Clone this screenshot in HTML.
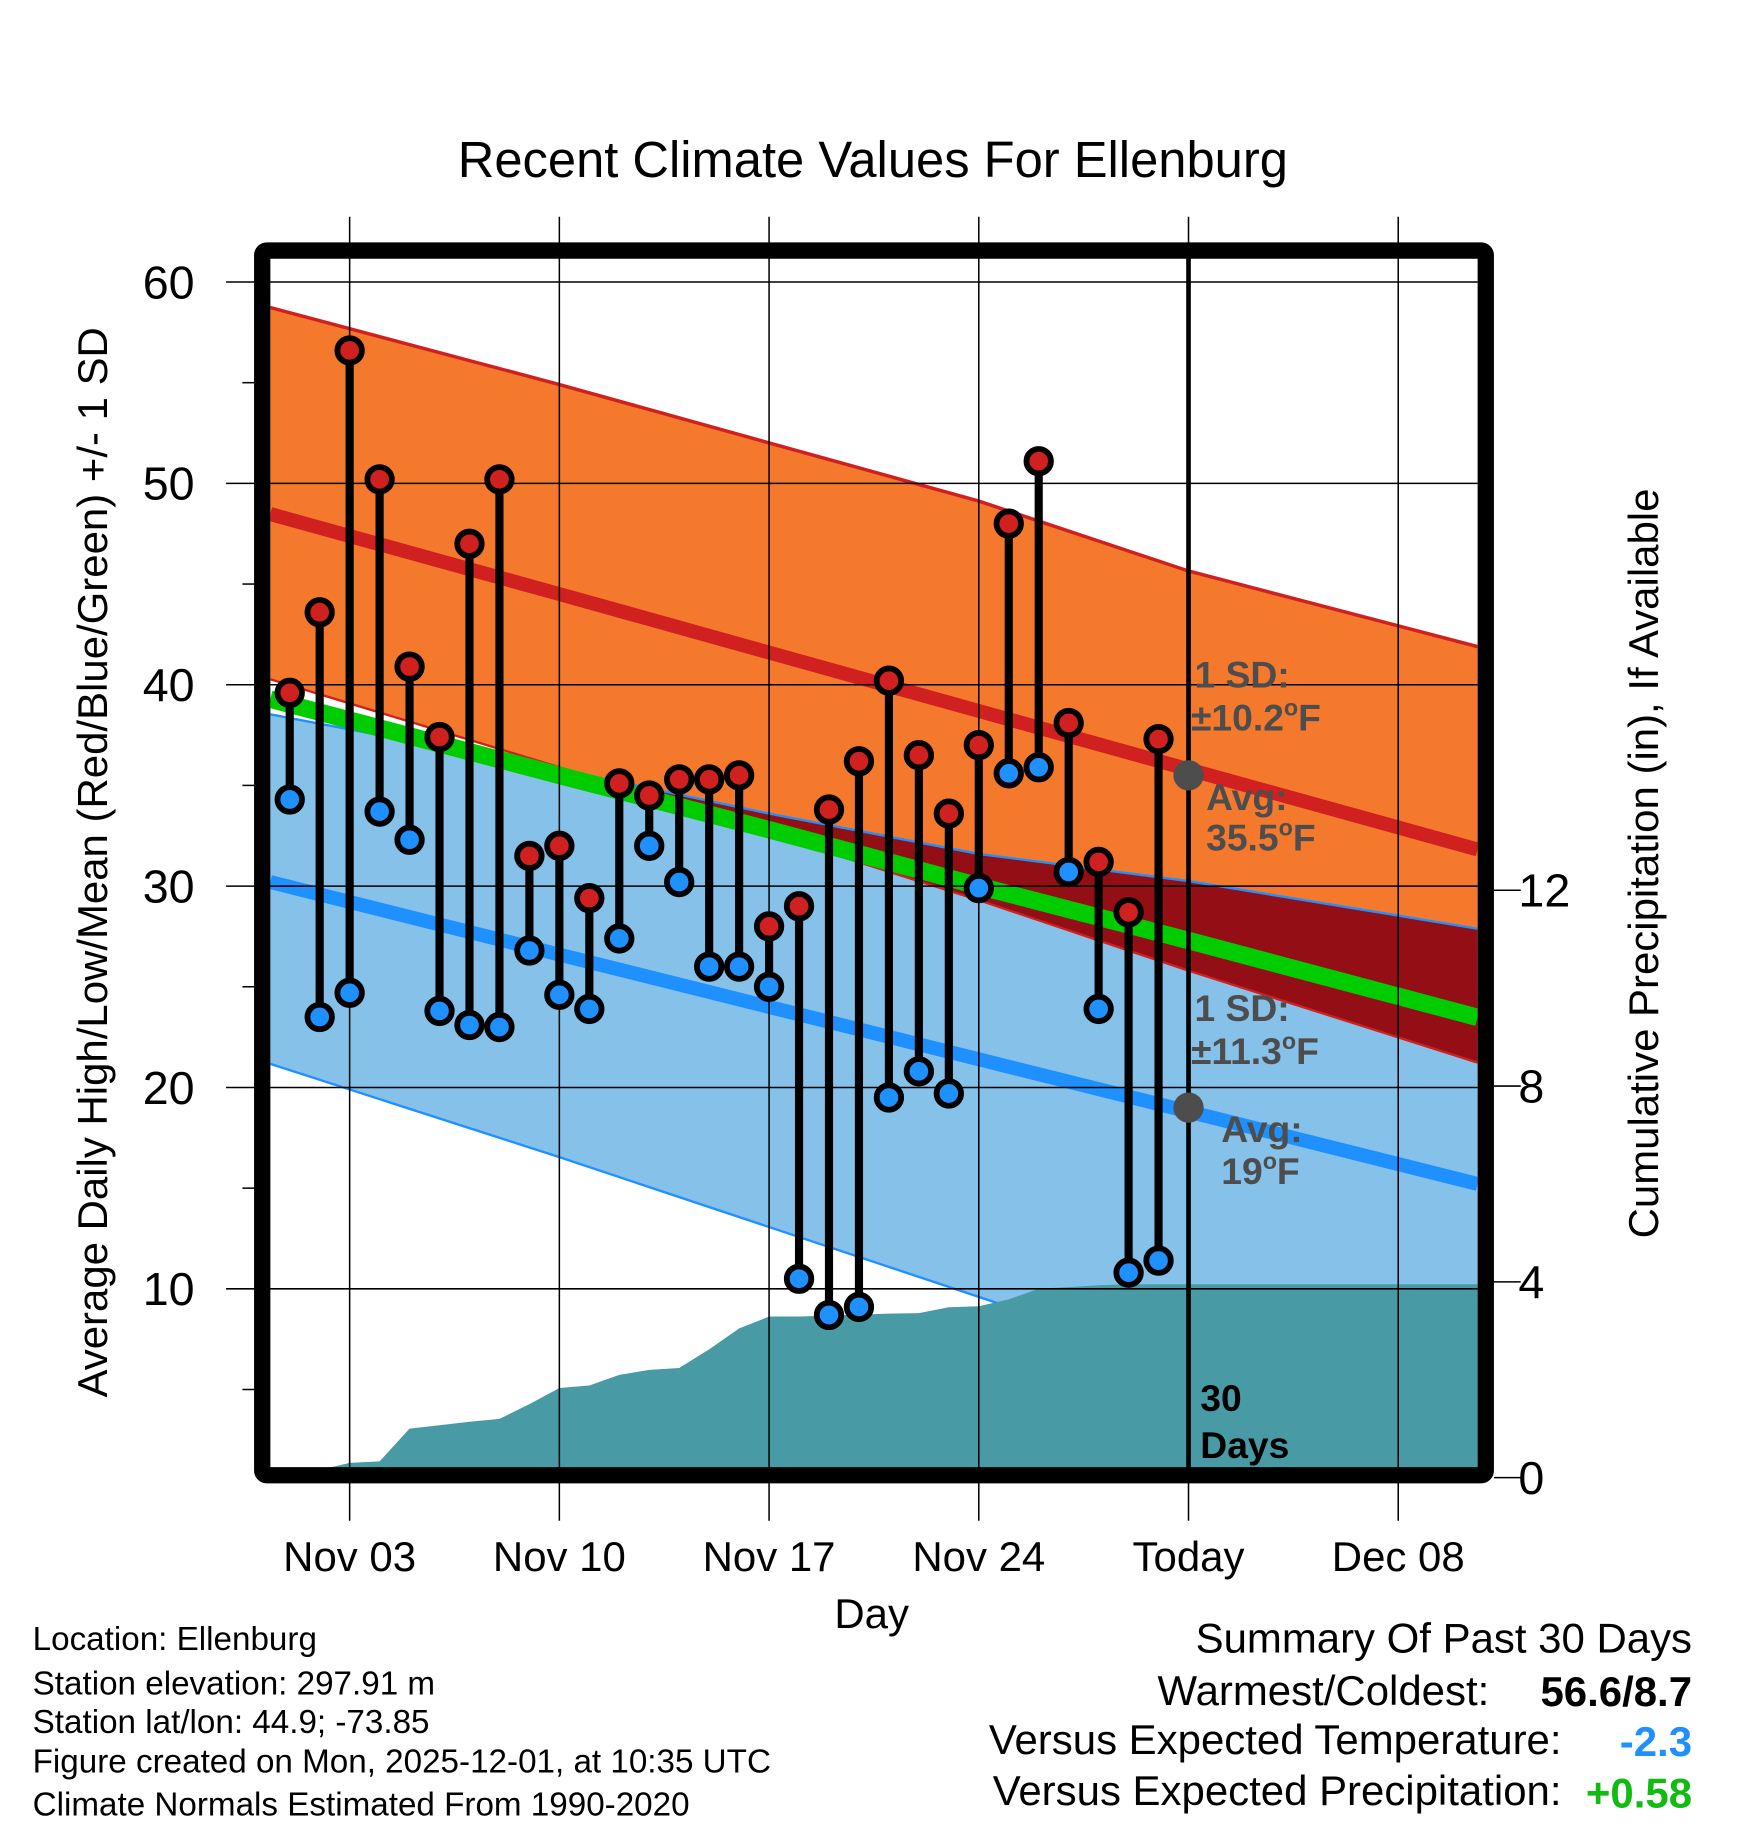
<!DOCTYPE html>
<html><head><meta charset="utf-8"><style>
html,body{margin:0;padding:0;background:#fff;}
svg{display:block;font-family:"Liberation Sans",Arial,sans-serif;}
</style></head><body>
<svg id="chart" width="1748" height="1828" viewBox="0 0 1500 1568.7" xmlns="http://www.w3.org/2000/svg">
<defs>
<clipPath id="plotclip"><rect x="232" y="215" width="1036" height="1046"/></clipPath>
<clipPath id="orangeclip"><polygon id="orangeclipPoly"/></clipPath>
</defs>
<rect width="1500" height="1568.7" fill="#fff"/>
<text x="749" y="152" font-size="43.5" text-anchor="middle">Recent Climate Values For Ellenburg</text>
<g id="fills" clip-path="url(#plotclip)"></g>
<g id="grid"></g>
<g id="marks" clip-path="url(#plotclip)"></g>
<rect x="225" y="215" width="1050" height="1051" fill="none" stroke="#000" stroke-width="14" rx="4"/>
<g id="axes"></g>
<text transform="translate(92,740) rotate(-90)" font-size="36" text-anchor="middle">Average Daily High/Low/Mean (Red/Blue/Green) +/- 1 SD</text>
<text transform="translate(1423,741) rotate(-90)" font-size="36" text-anchor="middle">Cumulative Precipitation (in), If Available</text>
<text x="748" y="1397" font-size="36" text-anchor="middle">Day</text>
<g font-size="32" font-weight="bold" fill="#4d4d4d">
<text x="1025" y="590">1 SD:</text><text x="1022" y="627">±10.2<tspan font-size="20" dy="-13">o</tspan><tspan dy="13">F</tspan></text>
<text x="1035" y="695">Avg:</text><text x="1035" y="730">35.5<tspan font-size="20" dy="-13">o</tspan><tspan dy="13">F</tspan></text>
</g>
<g font-size="32" font-weight="bold" fill="#4d4d4d">
<text x="1025" y="876">1 SD:</text><text x="1022" y="913">±11.3<tspan font-size="20" dy="-13">o</tspan><tspan dy="13">F</tspan></text>
<text x="1048" y="980">Avg:</text><text x="1048" y="1016">19<tspan font-size="20" dy="-13">o</tspan><tspan dy="13">F</tspan></text>
</g>
<g font-size="32" font-weight="bold" fill="#000">
<text x="1030" y="1211">30</text><text x="1030" y="1251">Days</text>
</g>
<g font-size="28.5">
<text x="28" y="1416">Location: Ellenburg</text>
<text x="28" y="1454">Station elevation: 297.91 m</text>
<text x="28" y="1487">Station lat/lon: 44.9; -73.85</text>
<text x="28" y="1521">Figure created on Mon, 2025-12-01, at 10:35 UTC</text>
<text x="28" y="1558">Climate Normals Estimated From 1990-2020</text>
</g>
<g font-size="36" text-anchor="end">
<text x="1452" y="1418">Summary Of Past 30 Days</text>
<text x="1278" y="1463">Warmest/Coldest:</text>
<text x="1452" y="1464" font-weight="bold">56.6/8.7</text>
<text x="1340" y="1505">Versus Expected Temperature:</text>
<text x="1452" y="1507" font-weight="bold" fill="#1e90ff">-2.3</text>
<text x="1340" y="1549">Versus Expected Precipitation:</text>
<text x="1452" y="1551" font-weight="bold" fill="#11bb11">+0.58</text>
</g>
</svg>
<script>
// ---- data ----
const days = [1,2,3,4,5,6,7,8,9,10,11,12,13,14,15,16,17,18,19,20,21,22,23,24,25,26,27,28,29,30];
const highs = [39.6,43.6,56.6,50.2,40.9,37.4,47.0,50.2,31.5,32.0,29.4,35.1,34.5,35.3,35.3,35.5,28.0,29.0,33.8,36.2,40.2,36.5,33.6,37.0,48.0,51.1,38.1,31.2,28.7,37.3];
const lows = [34.3,23.5,24.7,33.7,32.3,23.8,23.1,23.0,26.8,24.6,23.9,27.4,32.0,30.2,26.0,26.0,25.0,10.5,8.7,9.1,19.5,20.8,19.7,29.9,35.6,35.9,30.7,23.9,10.8,11.4];
const precip = [0,0,0.3,0.33,1.0,1.07,1.14,1.2,1.5,1.83,1.88,2.1,2.2,2.24,2.62,3.05,3.29,3.29,3.31,3.33,3.35,3.36,3.48,3.5,3.64,3.86,3.89,3.93,3.95,3.95];
const normDays = [0.35,10,17,24,31,40.65];
const upperHigh = [58.73,54.91,52.01,49.12,45.65,41.89];
const avgHigh = [48.48,44.5,41.6,38.7,35.8,31.82];
const lowerHigh = [40.27,35.9,32.6,29.3,25.8,21.23];
const upperLow = [38.53,35.8,33.6,31.6,30.25,27.88];
const meanT = [39.28,35.5,32.8,30.0,27.3,23.48];
const avgLow = [30.2,26.6,24.0,21.4,18.8,15.21];
const lowerLow = [21.17,16.54,13.07,9.6,6.1,2.0];
const xTickDays = [3,10,17,24,31,38];
const xTickLabels = ["Nov 03","Nov 10","Nov 17","Nov 24","Today","Dec 08"];
const yTicks = [60,50,40,30,20,10];
const yMinor = [55,45,35,25,15,5];
const y2Ticks = [0,4,8,12];
const todayDay = 31;
// ---- axes functions ----
const X = d => 248.6 + (d - 1) * 25.71;
const Y = v => 242 + (60 - v) * 17.28;
const Y2 = p => 1268 - p * 42;
const NS = "http://www.w3.org/2000/svg";
function mk(tag, attrs, parent){const e=document.createElementNS(NS,tag);for(const k in attrs)e.setAttribute(k,attrs[k]);parent.appendChild(e);return e;}
const pts = arr => normDays.map((d,i)=>X(d).toFixed(1)+","+Y(arr[i]).toFixed(1));
const fills = document.getElementById('fills');
const grid = document.getElementById('grid');
const marks = document.getElementById('marks');
const axes = document.getElementById('axes');
const orangePts = pts(upperHigh).concat(pts(lowerHigh).reverse()).join(" ");
const bluePts = pts(upperLow).concat(pts(lowerLow).reverse()).join(" ");
document.getElementById('orangeclipPoly').setAttribute('points', orangePts);
let e;
e = mk('polygon',{points:orangePts,fill:'#f5792d'},fills);


e = mk('polygon',{points:bluePts,fill:'#85c1e8'},fills);


e = mk('polygon',{points:bluePts,fill:'#940e15','clip-path':'url(#orangeclip)'},fills);


e = mk('polyline',{points:pts(upperHigh).join(" "),fill:'none',stroke:'#d02020','stroke-width':3},fills);


e = mk('polyline',{points:pts(lowerHigh).join(" "),fill:'none',stroke:'#d02020','stroke-width':2},fills);


e = mk('polyline',{points:pts(upperLow).join(" "),fill:'none',stroke:'#1e90ff','stroke-width':2},fills);


e = mk('polyline',{points:pts(lowerLow).join(" "),fill:'none',stroke:'#1e90ff','stroke-width':2},fills);


e = mk('polyline',{points:pts(avgHigh).join(" "),fill:'none',stroke:'#d02020','stroke-width':12},fills);


e = mk('polyline',{points:pts(meanT).join(" "),fill:'none',stroke:'#00cc00','stroke-width':15},fills);


e = mk('polyline',{points:pts(avgLow).join(" "),fill:'none',stroke:'#1e90ff','stroke-width':12},fills);


// precipitation area
let pp = [X(0.35)+",1262", X(1.9)+",1262"];
days.forEach((d,i)=>{ if(precip[i]>0) pp.push(X(d).toFixed(1)+","+Y2(precip[i]).toFixed(1)); });
pp.push(X(41)+","+Y2(precip[precip.length-1]).toFixed(1), X(41)+",1262");
e = mk('polygon',{points:pp.join(" "),fill:'#489ba5'},fills);


// grid
xTickDays.forEach((d,i)=>{
  e = mk('line',{x1:X(d),x2:X(d),y1:186,y2:1305,stroke:'#000','stroke-width':1.3},grid);
  
  
  e = mk('text',{x:X(d),y:1348,'font-size':36,'text-anchor':'middle'},axes);
  e.textContent = xTickLabels[i];
  
  
});
yTicks.forEach(v=>{
  e = mk('line',{x1:194,x2:1268,y1:Y(v),y2:Y(v),stroke:'#000','stroke-width':1.3},grid);
  
  
  e = mk('text',{x:167,y:Y(v)+14,'font-size':40,'text-anchor':'end'},axes);
  e.textContent = v;
  
  
});
yMinor.forEach(v=>{
  e = mk('line',{x1:208,x2:220,y1:Y(v),y2:Y(v),stroke:'#000','stroke-width':1.3},axes);
  
  
});
y2Ticks.forEach(p=>{
  e = mk('line',{x1:1282,x2:1305,y1:Y2(p),y2:Y2(p),stroke:'#000','stroke-width':1.3},axes);
  
  
  e = mk('text',{x:1303,y:Y2(p)+14,'font-size':40},axes);
  e.textContent = p;
  
  
});
// today line
e = mk('line',{x1:X(todayDay),x2:X(todayDay),y1:215,y2:1262,stroke:'#000','stroke-width':4},marks);


e = mk('circle',{cx:X(todayDay),cy:Y(35.5),r:13,fill:'#4d4d4d'},marks);


e = mk('circle',{cx:X(todayDay),cy:Y(19),r:13,fill:'#4d4d4d'},marks);


// daily markers
days.forEach((d,i)=>{
  const x = X(d);
  e = mk('line',{x1:x,x2:x,y1:Y(highs[i]),y2:Y(lows[i]),stroke:'#000','stroke-width':7},marks);
  
  
  e = mk('circle',{cx:x,cy:Y(lows[i]),r:10.5,fill:'#1e90ff',stroke:'#000','stroke-width':5},marks);
  
  
  e = mk('circle',{cx:x,cy:Y(highs[i]),r:10.5,fill:'#d02020',stroke:'#000','stroke-width':5},marks);
  
  
});
</script>
</body></html>
